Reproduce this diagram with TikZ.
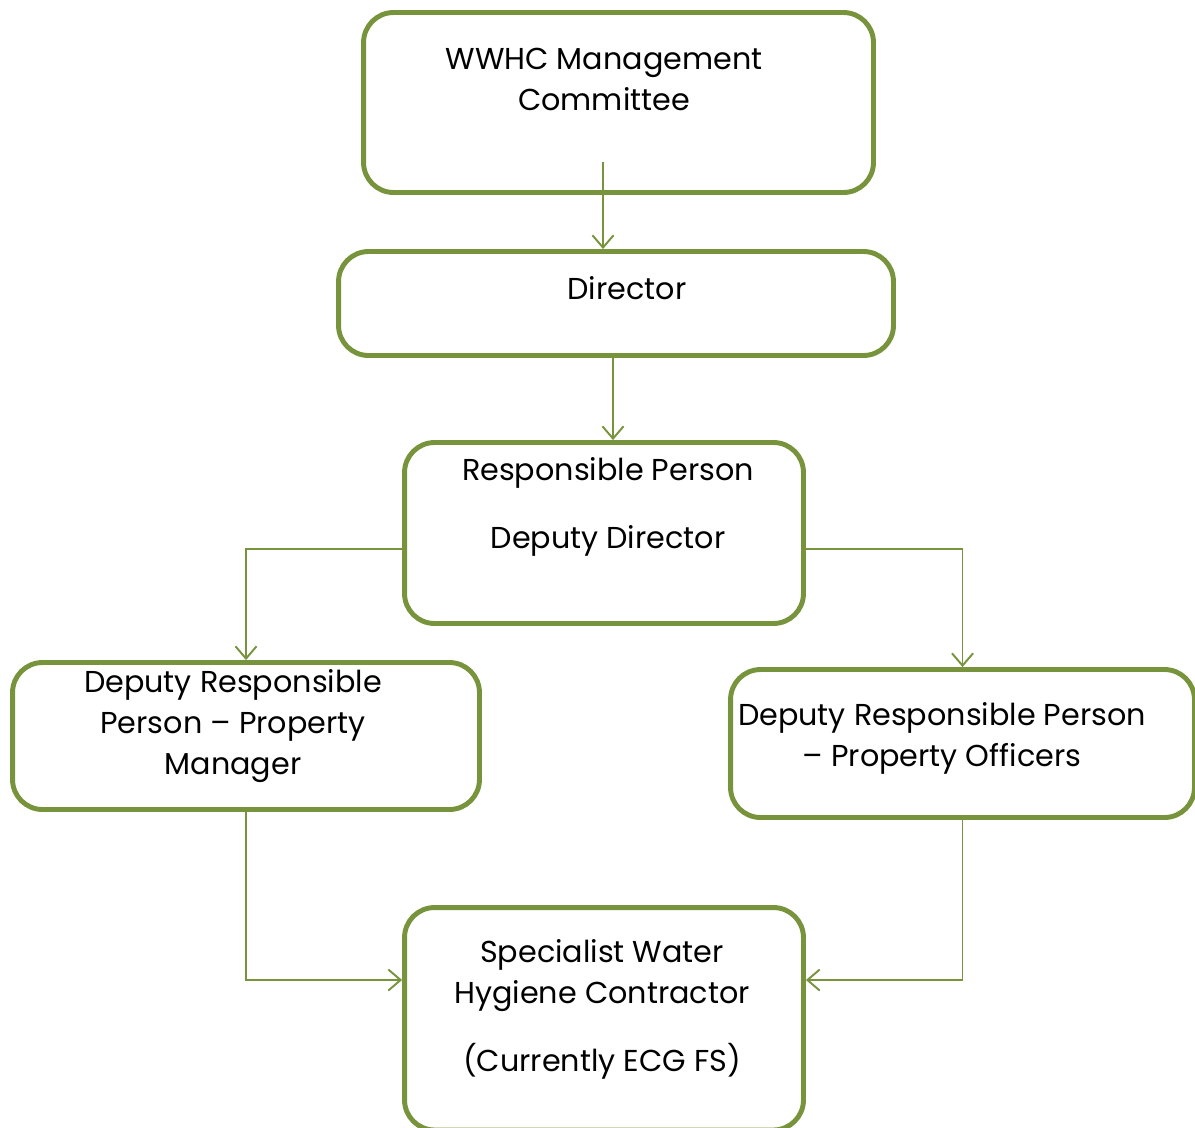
\documentclass[tikz,border=0pt]{standalone}
\usepackage{fontspec}
\setmainfont{Poppins}
\usepackage{xcolor}
\usetikzlibrary{arrows.meta,positioning}
\definecolor{leaf}{HTML}{77933C}

\begin{document}
\begin{tikzpicture}[x=0.02cm, y=-0.02cm,
  box/.style={draw=leaf, line width=2.8pt, rounded corners=0.6cm, inner sep=0pt},
  lbl/.style={align=center, anchor=base, inner sep=0pt, font=\fontsize{17.2}{23.3}\selectfont},
  arr/.style={draw=leaf, line width=1.1pt, -{Straight Barb[length=7pt, width=12pt, line width=1.1pt]}}
]
\useasboundingbox (0,0) rectangle (1195,1127);
\clip (0,0) rectangle (1195,1127);

% boxes
\node[box, minimum width=10.2cm, minimum height=3.6cm] (board) at (618.5,102.5) {};
\node[box, minimum width=11.1cm, minimum height=2.08cm] (director) at (616,303.5) {};
\node[box, minimum width=7.98cm, minimum height=3.62cm] (resp) at (604,533) {};
\node[box, minimum width=9.34cm, minimum height=2.94cm] (pmgr) at (246,736) {};
\node[box, minimum width=9.28cm, minimum height=2.96cm] (poff) at (962.5,743.5) {};
\node[box, minimum width=7.98cm, minimum height=4.45cm] (contr) at (604,1018.75) {};

% texts (anchored on the last line)
\node[lbl] (boardtxt) at (604,110) {WWHC Management\\Committee};
\node[lbl] (directortxt) at (627,299) {Director};
\node[lbl] (resptxt) at (608,548) {Responsible Person\\[15pt]Deputy Director};
\node[lbl] (pmgrtxt) at (233,774) {Deputy Responsible\\Person -- Property\\Manager};
\node[lbl] (pofftxt) at (942,766) {Deputy Responsible Person\\-- Property Officers};
\node[lbl] (contrtxt) at (602,1071) {Specialist Water\\Hygiene Contractor\\[15pt](Currently ECG FS)};

% connectors
\coordinate (boardout) at (603,162);
\draw[arr] (boardout) -- (boardout |- director.north);
\draw[arr] (613,358) coordinate (dirout) -- (dirout |- resp.north);
\draw[arr] (resp.west |- 0,549) -| (pmgr.north);
\draw[arr] (resp.east |- 0,549) -| (poff.north);
\draw[arr] (pmgr.south) |- (contr.west |- 0,980);
\draw[arr] (poff.south) |- (contr.east |- 0,980);
\end{tikzpicture}
\end{document}
